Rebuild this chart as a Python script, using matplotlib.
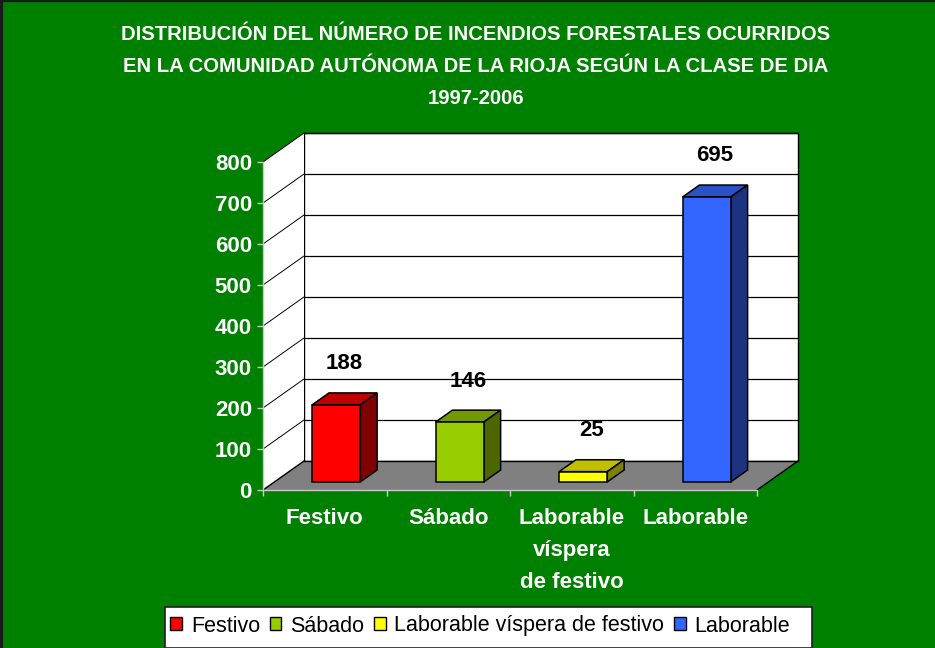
import matplotlib
matplotlib.use("Agg")
import matplotlib.pyplot as plt
from matplotlib.patches import Polygon, Rectangle, Patch
from matplotlib.lines import Line2D

plt.rcParams['font.family'] = ['Liberation Sans', 'DejaVu Sans']

# ---- data ----
categories = ["Festivo", "Sábado", "Laborable\nvíspera\nde festivo", "Laborable"]
legend_names = ["Festivo", "Sábado", "Laborable víspera de festivo", "Laborable"]
values = [188, 146, 25, 695]
y_ticks = [0, 100, 200, 300, 400, 500, 600, 700, 800]
title_lines = ["DISTRIBUCIÓN DEL NÚMERO DE INCENDIOS FORESTALES OCURRIDOS",
               "EN LA COMUNIDAD AUTÓNOMA DE LA RIOJA SEGÚN LA CLASE DE DIA",
               "1997-2006"]

# face colours: front, top, side
front_cols = ["#FF0000", "#99CC00", "#FFFF00", "#3366FF"]
top_cols = ["#C00000", "#739900", "#BFBF00", "#2A52C8"]
side_cols = ["#800000", "#4D6600", "#808000", "#1C3380"]

BG = "#008000"
W, H = 935, 648
fig = plt.figure(figsize=(W / 100, H / 100), dpi=100, facecolor=BG)

# front plane of the 3-D box
x0p, x1p, ybp, ytp = 263, 757, 490, 162
ax = fig.add_axes([x0p / W, (H - ybp) / H, (x1p - x0p) / W, (ybp - ytp) / H])
ax.set_xlim(0, len(categories))
ax.set_ylim(0, 800)
ax.set_facecolor("none")

# depth offset of the back wall, in data units
DX = 41 / (x1p - x0p) * len(categories)
DY = 29 / (ybp - ytp) * 800
n = len(categories)

def poly(pts, fc, ec="none", lw=0, z=1):
    ax.add_patch(Polygon(pts, closed=True, facecolor=fc, edgecolor=ec,
                         linewidth=lw, zorder=z, clip_on=False, joinstyle="miter"))

def line(xs, ys, c="black", lw=1.0, z=1.5):
    ax.add_line(Line2D(xs, ys, color=c, linewidth=lw, zorder=z, clip_on=False))

# walls and floor
poly([(DX, DY), (n + DX, DY), (n + DX, 800 + DY), (DX, 800 + DY)], "white", "black", 1.0, 1)
poly([(0, 0), (DX, DY), (DX, 800 + DY), (0, 800)], "white", z=1)
poly([(0, 0), (n, 0), (n + DX, DY), (DX, DY)], "#808080", z=1.1)
line([0, DX], [0, DY], lw=1.0, z=1.2)
line([n, n + DX], [0, DY], lw=1.0, z=1.2)
line([DX, n + DX], [DY, DY], lw=1.0, z=1.2)

# gridlines on the back wall and the side wall
for v in y_ticks[1:]:
    line([DX, n + DX], [v + DY, v + DY], lw=0.9, z=1.05)
    line([0, DX], [v, v + DY], lw=0.7, z=1.05)

# 3-D bars
f1, f2 = 0.28, 0.69
bw = 0.39
d = f2 - f1
for i, v in enumerate(values):
    bx = i + 0.5 - bw / 2 + f1 * DX
    by = f1 * DY
    lw = 1.1
    poly([(bx, by + v), (bx + bw, by + v), (bx + bw + d * DX, by + v + d * DY),
          (bx + d * DX, by + v + d * DY)], top_cols[i], "black", lw, 3)
    poly([(bx + bw, by), (bx + bw + d * DX, by + d * DY),
          (bx + bw + d * DX, by + v + d * DY), (bx + bw, by + v)], side_cols[i], "black", lw, 3)
    poly([(bx, by), (bx + bw, by), (bx + bw, by + v), (bx, by + v)], front_cols[i], "black", lw, 3.1)
    ax.annotate(str(v), xy=(bx + bw / 2 + d * DX / 2, by + v + d * DY / 2),
                xytext=(0, 35), textcoords="offset pixels", ha="center", va="center",
                fontsize=16, fontweight="bold", color="black", zorder=4,
                annotation_clip=False)

# axes styling
for s in ["top", "right"]:
    ax.spines[s].set_visible(False)
for s in ["left", "bottom"]:
    ax.spines[s].set_color("#C8C8C8")
    ax.spines[s].set_linewidth(1.0)
    ax.spines[s].set_zorder(2)
ax.set_yticks(y_ticks)
ax.set_yticklabels([str(t) for t in y_ticks])
ax.set_xticks(range(n + 1))
ax.set_xticklabels([])
ax.set_xticks([i + 0.5 for i in range(n)], categories, minor=True)
ax.tick_params(axis="y", direction="out", length=4, width=1, color="#C8C8C8",
               labelcolor="white", labelsize=16, pad=4)
ax.tick_params(axis="x", which="major", direction="out", length=4, width=1, color="#C8C8C8")
ax.tick_params(axis="x", which="minor", length=0, pad=13, labelcolor="white", labelsize=16)
for lab in ax.get_yticklabels() + ax.get_xticklabels(minor=True):
    lab.set_fontweight("bold")
for lab in ax.get_xticklabels(minor=True):
    lab.set_linespacing(1.7)

# title, one line at a time
for txt, yp in zip(title_lines, [35, 67, 98]):
    fig.text(476 / W, 1 - yp / H, txt, ha="center", va="center", color="white",
             fontsize=14.6, fontweight="bold")

# legend with its box
fig.add_artist(Rectangle((165 / W, 0), (812 - 165) / W, (H - 607) / H,
                         transform=fig.transFigure, facecolor="white",
                         edgecolor="#202020", linewidth=1.2, zorder=5))
handles = [Patch(facecolor=c, edgecolor="black", linewidth=1.0) for c in front_cols]
fig.legend(handles, legend_names, loc="center left", bbox_to_anchor=(166 / W, 1 - 626 / H),
           ncol=4, frameon=False, fontsize=15.5, handlelength=0.55, handleheight=0.55,
           handletextpad=0.4, columnspacing=0.45, borderpad=0.2,
           borderaxespad=0).set_zorder(6)

# dark edge at the left and top of the picture
fig.add_artist(Line2D([0.001, 0.001], [0, 1], transform=fig.transFigure,
                      color="#1A1A1A", linewidth=2.2, zorder=7))
fig.add_artist(Line2D([0, 1], [0.9985, 0.9985], transform=fig.transFigure,
                      color="#1A1A1A", linewidth=1.6, zorder=7))

fig.savefig("out.png", dpi=100, facecolor=BG)
